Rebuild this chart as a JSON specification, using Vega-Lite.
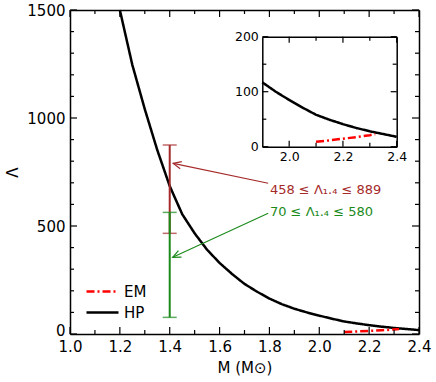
{
  "$schema": "https://vega.github.io/schema/vega-lite/v6.json",
  "width": 349,
  "height": 324,
  "autosize": {"type": "none"},
  "padding": {"left": 70, "top": 10, "right": 17, "bottom": 48},
  "background": "white",
  "config": {
    "view": {"stroke": null},
    "font": "DejaVu Sans",
    "axis": {
      "domainColor": "black", "domainWidth": 1.5, "tickColor": "black", "tickWidth": 1.2,
      "labelFont": "DejaVu Sans", "labelFontSize": 15, "labelColor": "black",
      "titleFont": "DejaVu Sans", "titleFontSize": 15, "titleFontWeight": "normal", "titleColor": "black",
      "grid": false, "labelOverlap": false, "labelFlush": false, "labelBound": false
    }
  },
  "datasets": {
    "curves": [
      {"series": "HP", "M": 1.20, "L": 1500},
      {"series": "HP", "M": 1.25, "L": 1246},
      {"series": "HP", "M": 1.30, "L": 1041},
      {"series": "HP", "M": 1.35, "L": 852},
      {"series": "HP", "M": 1.40, "L": 685},
      {"series": "HP", "M": 1.45, "L": 555},
      {"series": "HP", "M": 1.50, "L": 466},
      {"series": "HP", "M": 1.55, "L": 390},
      {"series": "HP", "M": 1.60, "L": 329},
      {"series": "HP", "M": 1.65, "L": 278},
      {"series": "HP", "M": 1.68, "L": 250},
      {"series": "HP", "M": 1.70, "L": 232},
      {"series": "HP", "M": 1.75, "L": 196},
      {"series": "HP", "M": 1.80, "L": 164},
      {"series": "HP", "M": 1.85, "L": 138},
      {"series": "HP", "M": 1.90, "L": 117},
      {"series": "HP", "M": 1.95, "L": 100},
      {"series": "HP", "M": 2.00, "L": 85},
      {"series": "HP", "M": 2.05, "L": 71},
      {"series": "HP", "M": 2.10, "L": 58},
      {"series": "HP", "M": 2.15, "L": 49},
      {"series": "HP", "M": 2.20, "L": 41},
      {"series": "HP", "M": 2.25, "L": 34},
      {"series": "HP", "M": 2.30, "L": 28},
      {"series": "HP", "M": 2.35, "L": 23},
      {"series": "HP", "M": 2.40, "L": 18},
      {"series": "EM", "M": 2.10, "L": 9},
      {"series": "EM", "M": 2.15, "L": 11.5},
      {"series": "EM", "M": 2.20, "L": 14.5},
      {"series": "EM", "M": 2.25, "L": 17.5},
      {"series": "EM", "M": 2.30, "L": 21},
      {"series": "EM", "M": 2.32, "L": 23}
    ],
    "bars": [
      {"grp": "red", "M": 1.4, "lo": 466, "hi": 875},
      {"grp": "green", "M": 1.4, "lo": 77, "hi": 563}
    ],
    "arrows": [
      {"grp": "red", "x1": 1.795, "y1": 698, "x2": 1.414, "y2": 790},
      {"grp": "green", "x1": 1.795, "y1": 559, "x2": 1.412, "y2": 355}
    ],
    "labels": [
      {"grp": "red", "M": 1.802, "L": 648, "text": "458 ≤ Λ₁.₄ ≤ 889"},
      {"grp": "green", "M": 1.802, "L": 546, "text": "70 ≤ Λ₁.₄ ≤ 580"}
    ],
    "xt_main": [
      {"v": 1.0, "kind": "major"}, {"v": 1.2, "kind": "major"}, {"v": 1.4, "kind": "major"}, {"v": 1.6, "kind": "major"},
      {"v": 1.8, "kind": "major"}, {"v": 2.0, "kind": "major"}, {"v": 2.2, "kind": "major"}, {"v": 2.4, "kind": "major"},
      {"v": 1.1, "kind": "minor"}, {"v": 1.3, "kind": "minor"}, {"v": 1.5, "kind": "minor"}, {"v": 1.7, "kind": "minor"},
      {"v": 1.9, "kind": "minor"}, {"v": 2.1, "kind": "minor"}, {"v": 2.3, "kind": "minor"}
    ],
    "yt_main": [
      {"v": 0, "kind": "major"}, {"v": 500, "kind": "major"}, {"v": 1000, "kind": "major"}, {"v": 1500, "kind": "major"},
      {"v": 100, "kind": "minor"}, {"v": 200, "kind": "minor"}, {"v": 300, "kind": "minor"}, {"v": 400, "kind": "minor"},
      {"v": 600, "kind": "minor"}, {"v": 700, "kind": "minor"}, {"v": 800, "kind": "minor"}, {"v": 900, "kind": "minor"},
      {"v": 1100, "kind": "minor"}, {"v": 1200, "kind": "minor"}, {"v": 1300, "kind": "minor"}, {"v": 1400, "kind": "minor"}
    ],
    "xt_in": [
      {"v": 2.0, "kind": "major"}, {"v": 2.2, "kind": "major"}, {"v": 2.4, "kind": "major"},
      {"v": 2.1, "kind": "minor"}, {"v": 2.3, "kind": "minor"}
    ],
    "yt_in": [
      {"v": 0, "kind": "major"}, {"v": 100, "kind": "major"}, {"v": 200, "kind": "major"},
      {"v": 50, "kind": "minor"}, {"v": 150, "kind": "minor"}
    ]
  },
  "layer": [
    {
      "layer": [
        {
          "data": {"name": "curves"},
          "mark": {"type": "line", "strokeWidth": 2.5},
          "encoding": {
            "x": {"field": "M", "type": "quantitative",
              "scale": {"domain": [1.0, 2.4], "nice": false, "zero": false},
              "axis": {"orient": "bottom", "values": [1.0,1.2,1.4,1.6,1.8,2.0,2.2,2.4],
                "tickSize": 0, "format": ".1f", "labelPadding": 5, "title": "M (M⊙)", "titlePadding": 6}},
            "y": {"field": "L", "type": "quantitative",
              "scale": {"domain": [0, 1500], "nice": false, "zero": false},
              "axis": {"orient": "left", "values": [0,500,1000,1500],
                "tickSize": 0, "format": "d", "labelPadding": 5,
                "labelOffset": {"condition": {"test": "datum.value == 0", "value": -4}, "value": 0},
                "title": "Λ", "titlePadding": 6}},
            "color": {"field": "series", "type": "nominal",
              "scale": {"domain": ["EM", "HP"], "range": ["#ff0000", "#000000"]},
              "legend": {"orient": "none", "legendX": 23, "legendY": 272, "title": null,
                "symbolType": "M -2 0 L 2 0", "symbolSize": 256, "symbolStrokeWidth": 2.5,
                "labelFont": "DejaVu Sans", "labelFontSize": 15, "labelColor": "black", "labelOffset": 12, "rowPadding": 3}},
            "strokeDash": {"field": "series", "type": "nominal",
              "scale": {"domain": ["EM", "HP"], "range": [[8, 3, 2, 3], [1, 0]]},
              "legend": {"orient": "none", "legendX": 23, "legendY": 272, "title": null,
                "symbolType": "M -2 0 L 2 0", "symbolSize": 256, "symbolStrokeWidth": 2.5,
                "labelFont": "DejaVu Sans", "labelFontSize": 15, "labelColor": "black", "labelOffset": 12, "rowPadding": 3}}
          }
        },
        {
          "data": {"name": "arrows"},
          "transform": [{"filter": "datum.grp == 'red'"}],
          "mark": {"type": "rule", "color": "#a52a2a", "strokeWidth": 1.1},
          "encoding": {
            "x": {"field": "x1", "type": "quantitative",
              "axis": {"orient": "top", "ticks": false, "labels": false, "domain": true, "title": null}},
            "y": {"field": "y1", "type": "quantitative",
              "axis": {"orient": "right", "ticks": false, "labels": false, "domain": true, "title": null}},
            "x2": {"field": "x2"},
            "y2": {"field": "y2"}
          }
        },
        {
          "data": {"name": "arrows"},
          "transform": [{"filter": "datum.grp == 'green'"}],
          "mark": {"type": "rule", "color": "#1a8a1a", "strokeWidth": 1.1},
          "encoding": {
            "x": {"field": "x1", "type": "quantitative", "axis": null},
            "y": {"field": "y1", "type": "quantitative", "axis": null},
            "x2": {"field": "x2"},
            "y2": {"field": "y2"}
          }
        },
        {
          "data": {"name": "arrows"},
          "transform": [{"filter": "datum.grp == 'red'"}],
          "mark": {"type": "point", "shape": "M -0.45 1 L 0 0 L 0.45 1", "filled": false, "size": 256, "strokeWidth": 1.2, "angle": 283, "color": "#a52a2a", "opacity": 1},
          "encoding": {
            "x": {"field": "x2", "type": "quantitative", "axis": null},
            "y": {"field": "y2", "type": "quantitative", "axis": null}
          }
        },
        {
          "data": {"name": "arrows"},
          "transform": [{"filter": "datum.grp == 'green'"}],
          "mark": {"type": "point", "shape": "M -0.45 1 L 0 0 L 0.45 1", "filled": false, "size": 256, "strokeWidth": 1.2, "angle": 245, "color": "#1a8a1a", "opacity": 1},
          "encoding": {
            "x": {"field": "x2", "type": "quantitative", "axis": null},
            "y": {"field": "y2", "type": "quantitative", "axis": null}
          }
        },
        {
          "data": {"name": "bars"},
          "transform": [{"filter": "datum.grp == 'red'"}],
          "mark": {"type": "errorbar", "ticks": {"size": 14, "thickness": 1.5}, "color": "#a52a2a", "thickness": 2},
          "encoding": {
            "x": {"field": "M", "type": "quantitative", "axis": null},
            "y": {"field": "lo", "type": "quantitative", "axis": null},
            "y2": {"field": "hi"}
          }
        },
        {
          "data": {"name": "bars"},
          "transform": [{"filter": "datum.grp == 'green'"}],
          "mark": {"type": "errorbar", "ticks": {"size": 14, "thickness": 1.5}, "color": "#1a8a1a", "thickness": 2},
          "encoding": {
            "x": {"field": "M", "type": "quantitative", "axis": null},
            "y": {"field": "lo", "type": "quantitative", "axis": null},
            "y2": {"field": "hi"}
          }
        },
        {
          "data": {"name": "labels"},
          "transform": [{"filter": "datum.grp == 'red'"}],
          "mark": {"type": "text", "align": "left", "baseline": "alphabetic", "font": "DejaVu Sans", "fontSize": 13, "color": "#a52a2a"},
          "encoding": {
            "x": {"field": "M", "type": "quantitative", "axis": null},
            "y": {"field": "L", "type": "quantitative", "axis": null},
            "text": {"field": "text"}
          }
        },
        {
          "data": {"name": "labels"},
          "transform": [{"filter": "datum.grp == 'green'"}],
          "mark": {"type": "text", "align": "left", "baseline": "alphabetic", "font": "DejaVu Sans", "fontSize": 13, "color": "#1a8a1a"},
          "encoding": {
            "x": {"field": "M", "type": "quantitative", "axis": null},
            "y": {"field": "L", "type": "quantitative", "axis": null},
            "text": {"field": "text"}
          }
        },
        {
          "data": {"name": "xt_main"},
          "transform": [{"filter": "datum.kind == 'major'"}],
          "mark": {"type": "tick", "orient": "vertical", "size": 7, "thickness": 1.2, "color": "black", "opacity": 1, "yOffset": -3.5},
          "encoding": {"x": {"field": "v", "type": "quantitative", "axis": null}, "y": {"datum": 0, "type": "quantitative", "axis": null}}
        },
        {
          "data": {"name": "xt_main"},
          "transform": [{"filter": "datum.kind == 'major'"}],
          "mark": {"type": "tick", "orient": "vertical", "size": 7, "thickness": 1.2, "color": "black", "opacity": 1, "yOffset": 3.5},
          "encoding": {"x": {"field": "v", "type": "quantitative", "axis": null}, "y": {"datum": 1500, "type": "quantitative", "axis": null}}
        },
        {
          "data": {"name": "xt_main"},
          "transform": [{"filter": "datum.kind == 'minor'"}],
          "mark": {"type": "tick", "orient": "vertical", "size": 4, "thickness": 1.2, "color": "black", "opacity": 1, "yOffset": -2},
          "encoding": {"x": {"field": "v", "type": "quantitative", "axis": null}, "y": {"datum": 0, "type": "quantitative", "axis": null}}
        },
        {
          "data": {"name": "xt_main"},
          "transform": [{"filter": "datum.kind == 'minor'"}],
          "mark": {"type": "tick", "orient": "vertical", "size": 4, "thickness": 1.2, "color": "black", "opacity": 1, "yOffset": 2},
          "encoding": {"x": {"field": "v", "type": "quantitative", "axis": null}, "y": {"datum": 1500, "type": "quantitative", "axis": null}}
        },
        {
          "data": {"name": "yt_main"},
          "transform": [{"filter": "datum.kind == 'major'"}],
          "mark": {"type": "tick", "orient": "horizontal", "size": 7, "thickness": 1.2, "color": "black", "opacity": 1, "xOffset": 3.5},
          "encoding": {"y": {"field": "v", "type": "quantitative", "axis": null}, "x": {"datum": 1.0, "type": "quantitative", "axis": null}}
        },
        {
          "data": {"name": "yt_main"},
          "transform": [{"filter": "datum.kind == 'major'"}],
          "mark": {"type": "tick", "orient": "horizontal", "size": 7, "thickness": 1.2, "color": "black", "opacity": 1, "xOffset": -3.5},
          "encoding": {"y": {"field": "v", "type": "quantitative", "axis": null}, "x": {"datum": 2.4, "type": "quantitative", "axis": null}}
        },
        {
          "data": {"name": "yt_main"},
          "transform": [{"filter": "datum.kind == 'minor'"}],
          "mark": {"type": "tick", "orient": "horizontal", "size": 4, "thickness": 1.2, "color": "black", "opacity": 1, "xOffset": 2},
          "encoding": {"y": {"field": "v", "type": "quantitative", "axis": null}, "x": {"datum": 1.0, "type": "quantitative", "axis": null}}
        },
        {
          "data": {"name": "yt_main"},
          "transform": [{"filter": "datum.kind == 'minor'"}],
          "mark": {"type": "tick", "orient": "horizontal", "size": 4, "thickness": 1.2, "color": "black", "opacity": 1, "xOffset": -2},
          "encoding": {"y": {"field": "v", "type": "quantitative", "axis": null}, "x": {"datum": 2.4, "type": "quantitative", "axis": null}}
        }
      ],
      "resolve": {"axis": {"x": "independent", "y": "independent"}}
    },
    {
      "layer": [
        {
          "data": {"name": "curves"},
          "transform": [{"filter": "datum.M >= 1.9"}],
          "mark": {"type": "line", "strokeWidth": 2.5},
          "encoding": {
            "x": {"field": "M", "type": "quantitative",
              "scale": {"domain": [1.9, 2.4], "range": [192.3, 326.7], "nice": false, "zero": false},
              "axis": {"orient": "bottom", "offset": -187.3, "values": [2.0,2.2,2.4],
                "tickSize": 0, "format": ".1f", "labelFontSize": 12.5, "labelPadding": 4, "title": null}},
            "y": {"field": "L", "type": "quantitative",
              "scale": {"domain": [0, 200], "range": [136.7, 26.7], "nice": false, "zero": false},
              "axis": {"orient": "left", "offset": -192.3, "values": [0,100,200],
                "tickSize": 0, "format": "d", "labelFontSize": 12.5, "labelPadding": 4, "title": null}},
            "color": {"field": "series", "type": "nominal", "legend": null},
            "strokeDash": {"field": "series", "type": "nominal", "legend": null}
          }
        },
        {
          "data": {"name": "curves"},
          "transform": [{"filter": "datum.M >= 1.9"}],
          "mark": {"type": "point", "opacity": 0},
          "encoding": {
            "x": {"field": "M", "type": "quantitative",
              "axis": {"orient": "top", "offset": -26.7, "ticks": false, "labels": false, "domain": true, "title": null}},
            "y": {"field": "L", "type": "quantitative",
              "axis": {"orient": "right", "offset": -22.3, "ticks": false, "labels": false, "domain": true, "title": null}}
          }
        },
        {
          "data": {"name": "xt_in"},
          "transform": [{"filter": "datum.kind == 'major'"}],
          "mark": {"type": "tick", "orient": "vertical", "size": 6, "thickness": 1.2, "color": "black", "opacity": 1, "yOffset": -3},
          "encoding": {"x": {"field": "v", "type": "quantitative", "axis": null}, "y": {"datum": 0, "type": "quantitative", "axis": null}}
        },
        {
          "data": {"name": "xt_in"},
          "transform": [{"filter": "datum.kind == 'major'"}],
          "mark": {"type": "tick", "orient": "vertical", "size": 6, "thickness": 1.2, "color": "black", "opacity": 1, "yOffset": 3},
          "encoding": {"x": {"field": "v", "type": "quantitative", "axis": null}, "y": {"datum": 200, "type": "quantitative", "axis": null}}
        },
        {
          "data": {"name": "xt_in"},
          "transform": [{"filter": "datum.kind == 'minor'"}],
          "mark": {"type": "tick", "orient": "vertical", "size": 4, "thickness": 1.2, "color": "black", "opacity": 1, "yOffset": -2},
          "encoding": {"x": {"field": "v", "type": "quantitative", "axis": null}, "y": {"datum": 0, "type": "quantitative", "axis": null}}
        },
        {
          "data": {"name": "xt_in"},
          "transform": [{"filter": "datum.kind == 'minor'"}],
          "mark": {"type": "tick", "orient": "vertical", "size": 4, "thickness": 1.2, "color": "black", "opacity": 1, "yOffset": 2},
          "encoding": {"x": {"field": "v", "type": "quantitative", "axis": null}, "y": {"datum": 200, "type": "quantitative", "axis": null}}
        },
        {
          "data": {"name": "yt_in"},
          "transform": [{"filter": "datum.kind == 'major'"}],
          "mark": {"type": "tick", "orient": "horizontal", "size": 6, "thickness": 1.2, "color": "black", "opacity": 1, "xOffset": 3},
          "encoding": {"y": {"field": "v", "type": "quantitative", "axis": null}, "x": {"datum": 1.9, "type": "quantitative", "axis": null}}
        },
        {
          "data": {"name": "yt_in"},
          "transform": [{"filter": "datum.kind == 'major'"}],
          "mark": {"type": "tick", "orient": "horizontal", "size": 6, "thickness": 1.2, "color": "black", "opacity": 1, "xOffset": -3},
          "encoding": {"y": {"field": "v", "type": "quantitative", "axis": null}, "x": {"datum": 2.4, "type": "quantitative", "axis": null}}
        },
        {
          "data": {"name": "yt_in"},
          "transform": [{"filter": "datum.kind == 'minor'"}],
          "mark": {"type": "tick", "orient": "horizontal", "size": 4, "thickness": 1.2, "color": "black", "opacity": 1, "xOffset": 2},
          "encoding": {"y": {"field": "v", "type": "quantitative", "axis": null}, "x": {"datum": 1.9, "type": "quantitative", "axis": null}}
        },
        {
          "data": {"name": "yt_in"},
          "transform": [{"filter": "datum.kind == 'minor'"}],
          "mark": {"type": "tick", "orient": "horizontal", "size": 4, "thickness": 1.2, "color": "black", "opacity": 1, "xOffset": -2},
          "encoding": {"y": {"field": "v", "type": "quantitative", "axis": null}, "x": {"datum": 2.4, "type": "quantitative", "axis": null}}
        }
      ],
      "resolve": {"axis": {"x": "independent", "y": "independent"}}
    }
  ],
  "resolve": {
    "scale": {"x": "independent", "y": "independent"},
    "axis": {"x": "independent", "y": "independent"}
  }
}
